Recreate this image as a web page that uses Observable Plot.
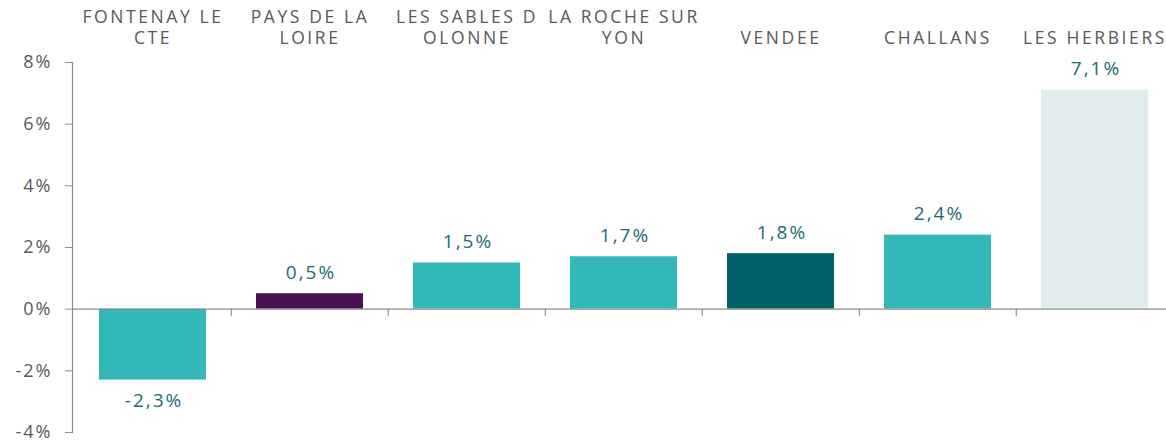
<!DOCTYPE html>
<html>
<head>
<meta charset="utf-8">
<script src="https://cdn.jsdelivr.net/npm/d3@7"></script>
<script src="https://cdn.jsdelivr.net/npm/@observablehq/plot@0.6"></script>
<style>
  html, body { margin: 0; padding: 0; background: #fff; }
  #chart svg { display: block; }
  .xlab text { letter-spacing: 2.6px; }
  .ylab text { letter-spacing: 2px; }
  .vlab text { letter-spacing: 2px; }
</style>
</head>
<body>
<div id="chart"></div>
<script>
const categories = ["FONTENAY LE CTE", "PAYS DE LA LOIRE", "LES SABLES D OLONNE", "LA ROCHE SUR YON", "VENDEE", "CHALLANS", "LES HERBIERS"];
const categoryLabels = ["FONTENAY LE\nCTE", "PAYS DE LA\nLOIRE", "LES SABLES D\nOLONNE", "LA ROCHE SUR\nYON", "VENDEE", "CHALLANS", "LES HERBIERS"];
const values = [-2.3, 0.5, 1.5, 1.7, 1.8, 2.4, 7.1];
const barColors = ["#33b8b9", "#4a1151", "#33b8b9", "#33b8b9", "#00616b", "#33b8b9", "#e0ecee"];
const yTicks = [-4, -2, 0, 2, 4, 6, 8];

const data = categories.map((c, i) => ({cat: c, label: categoryLabels[i], value: values[i], color: barColors[i]}));
const labelOf = Object.fromEntries(data.map(d => [d.cat, d.label]));
const fmt = v => v.toFixed(1).replace(".", ",") + "%";

const chart = Plot.plot({
  width: 1166,
  height: 443,
  marginLeft: 72,
  marginRight: -8.5,
  marginTop: 62,
  marginBottom: 11,
  style: {fontFamily: "'Open Sans', sans-serif", background: "#fff"},
  x: {domain: categories, paddingInner: 0.32, paddingOuter: 0.16, axis: null},
  y: {domain: [-4, 8], axis: null},
  marks: [
    Plot.barY(data, {x: "cat", y: "value", fill: "color"}),
    Plot.ruleY([0], {stroke: "#8c8c8c", strokeWidth: 1.2}),
    Plot.ruleX(categories.slice(1), {x: d => d, y1: 0, y2: 0, insetBottom: -7, dx: -78.75, stroke: "#8c8c8c", strokeWidth: 1.2}),
    Plot.frame({anchor: "left", stroke: "#8c8c8c", strokeWidth: 1.2}),
    Plot.axisY({ticks: yTicks, label: null, tickSize: 7, tickPadding: 13, tickFormat: d => d + "%", fontSize: 18, stroke: "#8c8c8c", fill: "#595959", className: "ylab"}),
    Plot.axisX({anchor: "top", label: null, tickSize: 0, tickPadding: 19, tickFormat: d => labelOf[d], fontSize: 17.5, lineHeight: 1.2, fill: "#595959", lineAnchor: "bottom", className: "xlab"}),
    Plot.text(data.filter(d => d.value >= 0), {x: "cat", y: "value", text: d => fmt(d.value), dy: -21, dx: 1, fontSize: 19, fill: "#1b6c73", className: "vlab"}),
    Plot.text(data.filter(d => d.value < 0), {x: "cat", y: "value", text: d => fmt(d.value), dy: 21, dx: 1, fontSize: 19, fill: "#1b6c73", className: "vlab"})
  ]
});
document.getElementById("chart").appendChild(chart);
</script>
</body>
</html>
